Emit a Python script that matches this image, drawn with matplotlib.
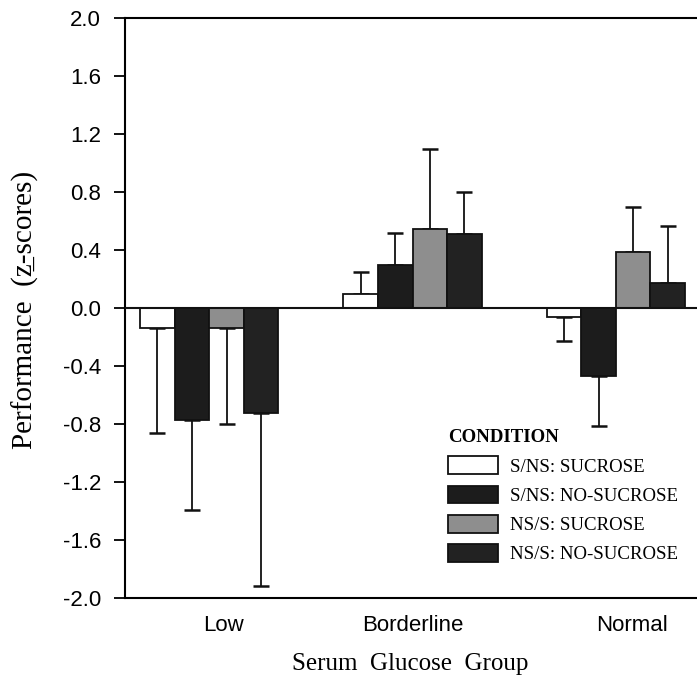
import matplotlib
matplotlib.use("Agg")
import matplotlib.pyplot as plt
import numpy as np
from matplotlib.patches import Patch

# Data
groups = ["Low", "Borderline", "Normal"]
conditions = ["S/NS: SUCROSE", "S/NS: NO-SUCROSE", "NS/S: SUCROSE", "NS/S: NO-SUCROSE"]

s_ns_sucrose = [-0.14, 0.10, -0.06]
s_ns_sucrose_err = [0.72, 0.15, 0.17]

s_ns_nosucrose = [-0.77, 0.30, -0.47]
s_ns_nosucrose_err = [0.62, 0.22, 0.34]

ns_s_sucrose = [-0.14, 0.545, 0.39]
ns_s_sucrose_err = [0.66, 0.555, 0.31]

ns_s_nosucrose = [-0.72, 0.51, 0.17]
ns_s_nosucrose_err = [1.20, 0.29, 0.40]

y_ticks = [-2.0, -1.6, -1.2, -0.8, -0.4, 0.0, 0.4, 0.8, 1.2, 1.6, 2.0]


def one_sided(values, errs):
    # error bars only go away from zero, like in the original
    lower = [e if v < 0 else 0 for v, e in zip(values, errs)]
    upper = [e if v >= 0 else 0 for v, e in zip(values, errs)]
    return [lower, upper]


def main():
    plt.rcParams["axes.unicode_minus"] = False

    fig = plt.figure(figsize=(6.97, 6.75), dpi=100)
    ax = fig.add_axes([0.179, 0.114, 0.827, 0.859])

    series = [
        (s_ns_sucrose, s_ns_sucrose_err, "white"),
        (s_ns_nosucrose, s_ns_nosucrose_err, "#1c1c1c"),
        (ns_s_sucrose, ns_s_sucrose_err, "#8e8e8e"),
        (ns_s_nosucrose, ns_s_nosucrose_err, "#222222"),
    ]

    x = np.arange(len(groups))
    width = 0.17
    for i, (vals, errs, color) in enumerate(series):
        pos = x + (i - 1.5) * width
        ax.errorbar(pos, vals, yerr=one_sided(vals, errs), fmt="none",
                    ecolor="#111111", elinewidth=1.3, capsize=5.5,
                    capthick=1.8, zorder=1)
        ax.bar(pos, vals, width=width, color=color, edgecolor="#111111",
               linewidth=1.3, zorder=2)

    ax.axhline(0, color="#111111", linewidth=1.5, zorder=3)

    ax.set_xlim(-0.416, 2.42)
    ax.set_ylim(-2.0, 2.0)
    ax.set_yticks(y_ticks)
    ax.set_yticklabels([f"{t:.1f}" for t in y_ticks], fontsize=16,
                       family="Liberation Sans")
    ax.tick_params(axis="y", direction="out", length=8, width=1.3, pad=9)

    ax.set_xticks(x + np.array([0.07, 0.0, 0.08]))
    ax.set_xticklabels(groups, fontsize=16, family="Liberation Sans")
    ax.tick_params(axis="x", length=0, pad=12)

    for side in ["left", "bottom", "top"]:
        ax.spines[side].set_linewidth(1.5)
    ax.spines["right"].set_visible(False)

    ax.set_ylabel("Performance  (z\u0332-scores)",
                  fontsize=21, family="Liberation Serif")
    ax.yaxis.set_label_coords(-0.148, 0.497)
    ax.set_xlabel("Serum  Glucose  Group", fontsize=18,
                  family="Liberation Serif")
    ax.xaxis.set_label_coords(0.495, -0.095)

    handles = [Patch(facecolor=c, edgecolor="#111111", linewidth=1.3)
               for _, _, c in series]
    leg = ax.legend(handles, conditions, loc="upper left",
                    bbox_to_anchor=(0.561, 0.291), frameon=False,
                    prop={"family": "Liberation Serif", "size": 13.6},
                    title="CONDITION", alignment="left",
                    handlelength=2.65, handleheight=1.06,
                    labelspacing=0.53, handletextpad=0.63,
                    borderaxespad=0, borderpad=0)
    leg.get_title().set_fontfamily("Liberation Serif")
    leg.get_title().set_fontweight("bold")
    leg.get_title().set_fontsize(13.6)

    fig.savefig("out.png", dpi=100)


if __name__ == "__main__":
    main()
